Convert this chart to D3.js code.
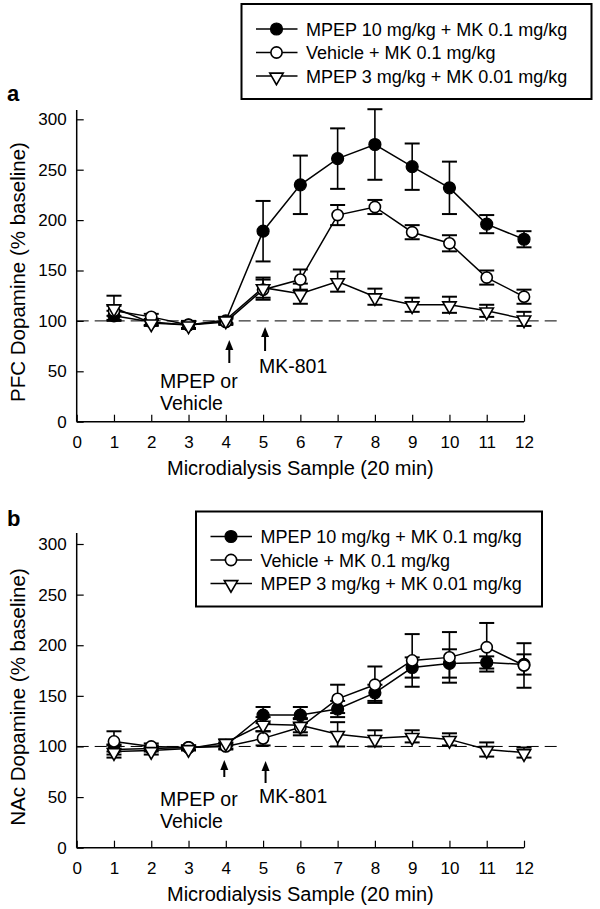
<!DOCTYPE html>
<html>
<head>
<meta charset="utf-8">
<script src="https://cdn.jsdelivr.net/npm/d3@7"></script>
<style>
  html, body { margin: 0; padding: 0; background: #fff; }
  svg { display: block; }
  text { font-family: "Liberation Sans", Arial, Helvetica, sans-serif; fill: #000; }
</style>
</head>
<body>
<svg id="chart" width="600" height="909"></svg>
<script>
// ---------- data ----------
const samples = [1, 2, 3, 4, 5, 6, 7, 8, 9, 10, 11, 12];
const xTicks = [0, 1, 2, 3, 4, 5, 6, 7, 8, 9, 10, 11, 12];
const yTicks = [0, 50, 100, 150, 200, 250, 300];
const seriesNames = ["MPEP 10 mg/kg + MK 0.1 mg/kg", "Vehicle + MK 0.1 mg/kg", "MPEP 3 mg/kg + MK 0.01 mg/kg"];

// Panel a: PFC dopamine (% baseline)
const pfcMpep10 = [105, 99, 96, 100, 189, 235, 261, 275, 253, 232, 196, 181];
const pfcMpep10Err = [5, 3, 3, 3, 30, 29, 30, 35, 23, 26, 9, 8];
const pfcVehicle = [110, 104, 96, 99, 131, 141, 205, 213, 188, 177, 143, 124];
const pfcVehicleErr = [5, 3, 3, 3, 10, 10, 10, 7, 7, 8, 7, 7];
const pfcMpep3 = [113, 98, 96, 101, 133, 127, 139, 124, 116, 116, 110, 102];
const pfcMpep3Err = [12, 3, 4, 3, 10, 10, 10, 8, 7, 8, 6, 7];

// Panel b: NAc dopamine (% baseline)
const nacMpep10 = [97, 98, 99, 101, 131, 131, 137, 153, 178, 182, 183, 181];
const nacMpep10Err = [5, 3, 2, 3, 8, 8, 8, 8, 10, 14, 6, 10];
const nacVehicle = [105, 100, 99, 100, 108, 119, 147, 161, 185, 188, 198, 180];
const nacVehicleErr = [10, 3, 2, 3, 7, 8, 14, 18, 26, 25, 24, 22];
const nacMpep3 = [95, 96, 98, 104, 122, 121, 112, 108, 110, 107, 97, 94];
const nacMpep3Err = [6, 4, 2, 3, 7, 7, 12, 8, 6, 6, 7, 5];

const baselineValue = 100;
const arrowMpepX = 4;
const arrowMk801X = 5;

// ---------- drawing ----------
const svg = d3.select("#chart");

const xScale = d3.scaleLinear().domain([0, 12]).range([76.7, 524]);

const markerTypes = ["filled", "open", "triangle"];

function drawMarker(g, type, cx, cy) {
  if (type === "filled") {
    g.append("circle").attr("cx", cx).attr("cy", cy).attr("r", 6)
      .attr("fill", "#000").attr("stroke", "#000").attr("stroke-width", 1.2);
  } else if (type === "open") {
    g.append("circle").attr("cx", cx).attr("cy", cy).attr("r", 5.6)
      .attr("fill", "#fff").attr("stroke", "#000").attr("stroke-width", 1.6);
  } else {
    const sym = d3.symbol().type(d3.symbolTriangle).size(78);
    g.append("path").attr("d", sym())
      .attr("transform", `translate(${cx},${cy + 1}) rotate(180)`)
      .attr("fill", "#fff").attr("stroke", "#000").attr("stroke-width", 1.6);
  }
}

function drawArrow(g, x, yTop, yBottom) {
  g.append("line").attr("x1", x).attr("x2", x)
    .attr("y1", yTop + 8).attr("y2", yBottom)
    .attr("stroke", "#000").attr("stroke-width", 2);
  g.append("path")
    .attr("d", `M${x},${yTop} L${x - 4},${yTop + 10} L${x + 4},${yTop + 10} Z`)
    .attr("fill", "#000");
}

function drawPanel(p) {
  const g = svg.append("g");
  const y = d3.scaleLinear().domain([0, 300]).range([p.y0, p.y300]);

  // panel letter
  g.append("text").attr("x", 7).attr("y", p.labelY)
    .attr("font-size", 22).attr("font-weight", "bold").text(p.letter);

  // baseline dashed line
  g.append("line")
    .attr("x1", xScale(0)).attr("x2", 562)
    .attr("y1", y(baselineValue)).attr("y2", y(baselineValue))
    .attr("stroke", "#000").attr("stroke-width", 1)
    .attr("stroke-dasharray", "12,6");

  // y axis
  const yAxis = d3.axisLeft(y).tickValues(yTicks).tickSize(-7).tickPadding(10)
    .tickFormat(d3.format("d"));
  const ya = g.append("g").attr("transform", `translate(${xScale(0)},0)`).call(yAxis);
  ya.select(".domain").remove();
  ya.append("line").attr("x1", 0).attr("x2", 0)
    .attr("y1", y(0)).attr("y2", p.axisTop)
    .attr("stroke", "#000").attr("stroke-width", 1.5);
  ya.selectAll(".tick line").attr("stroke", "#000").attr("stroke-width", 1.2);
  ya.selectAll(".tick text").attr("font-size", 17)
    .attr("font-family", '"Liberation Sans", Arial, sans-serif').attr("fill", "#000");

  // x axis
  const xAxis = d3.axisBottom(xScale).tickValues(xTicks).tickSize(-7).tickPadding(14)
    .tickFormat(d3.format("d"));
  const xa = g.append("g").attr("transform", `translate(0,${y(0)})`).call(xAxis);
  xa.select(".domain").remove();
  xa.append("line").attr("x1", xScale(0)).attr("x2", xScale(12))
    .attr("y1", 0).attr("y2", 0).attr("stroke", "#000").attr("stroke-width", 1.5);
  xa.selectAll(".tick line").attr("stroke", "#000").attr("stroke-width", 1.2);
  xa.selectAll(".tick text").attr("font-size", 17)
    .attr("font-family", '"Liberation Sans", Arial, sans-serif').attr("fill", "#000");

  // axis titles
  g.append("text").attr("x", (xScale(0) + xScale(12)) / 2).attr("y", y(0) + 53)
    .attr("text-anchor", "middle").attr("font-size", 20)
    .text("Microdialysis Sample (20 min)");
  g.append("text")
    .attr("transform", `translate(${p.yTitleX},${p.yTitleCy}) rotate(-90)`)
    .attr("text-anchor", "middle").attr("font-size", 20.5)
    .text(p.yTitle);

  // annotations
  drawArrow(g, xScale(arrowMpepX) + p.mpepArrowDx, p.mpepArrowTop, p.mpepArrowBottom);
  drawArrow(g, xScale(arrowMk801X) + p.mkArrowDx, p.mkArrowTop, p.mkArrowBottom);
  g.append("text").attr("x", 160).attr("y", p.mpepTextY).attr("font-size", 19.5).text("MPEP or");
  g.append("text").attr("x", 160).attr("y", p.mpepTextY + 22).attr("font-size", 19.5).text("Vehicle");
  g.append("text").attr("x", 259).attr("y", p.mkTextY).attr("font-size", 19.5).text("MK-801");

  // series lines
  const line = d3.line().x((d, i) => xScale(samples[i])).y(d => y(d));
  p.series.forEach(s => {
    g.append("path").datum(s.values).attr("d", line)
      .attr("fill", "none").attr("stroke", "#000").attr("stroke-width", 1.5);
  });

  // error bars
  p.series.forEach(s => {
    s.values.forEach((v, i) => {
      const cx = xScale(samples[i]);
      const e = s.errors[i];
      const yt = y(v + e), yb = y(v - e);
      g.append("line").attr("x1", cx).attr("x2", cx).attr("y1", yt).attr("y2", yb)
        .attr("stroke", "#000").attr("stroke-width", 1.6);
      [yt, yb].forEach(yy => {
        g.append("line").attr("x1", cx - 7.5).attr("x2", cx + 7.5)
          .attr("y1", yy).attr("y2", yy)
          .attr("stroke", "#000").attr("stroke-width", 2);
      });
    });
  });

  // markers
  p.series.forEach(s => {
    s.values.forEach((v, i) => drawMarker(g, s.type, xScale(samples[i]), y(v)));
  });

  // legend
  const lg = g.append("g");
  lg.append("rect").attr("x", p.legX).attr("y", p.legY)
    .attr("width", p.legW).attr("height", p.legH)
    .attr("fill", "#fff").attr("stroke", "#000").attr("stroke-width", 2);
  seriesNames.forEach((name, i) => {
    const ry = p.legY + 25 + i * 23.5;
    lg.append("line").attr("x1", p.legX + 14.5).attr("x2", p.legX + 56)
      .attr("y1", ry).attr("y2", ry).attr("stroke", "#000").attr("stroke-width", 1.6);
    drawMarker(lg, markerTypes[i], p.legX + 35, ry);
    lg.append("text").attr("x", p.legX + 64.5).attr("y", ry + 6.5)
      .attr("font-size", 18).text(name);
  });
}

drawPanel({
  letter: "a", labelY: 101,
  y0: 421.7, y300: 119.3, axisTop: 110,
  yTitle: "PFC Dopamine (% baseline)", yTitleX: 25, yTitleCy: 272,
  mpepArrowDx: 3.5, mpepArrowTop: 340, mpepArrowBottom: 363,
  mkArrowDx: 2, mkArrowTop: 327, mkArrowBottom: 351,
  mpepTextY: 388, mkTextY: 373,
  legX: 241.5, legY: 4, legW: 350, legH: 95,
  series: [
    { type: "filled", values: pfcMpep10, errors: pfcMpep10Err },
    { type: "open", values: pfcVehicle, errors: pfcVehicleErr },
    { type: "triangle", values: pfcMpep3, errors: pfcMpep3Err }
  ]
});

drawPanel({
  letter: "b", labelY: 526,
  y0: 847.7, y300: 544, axisTop: 533,
  yTitle: "NAc Dopamine (% baseline)", yTitleX: 25, yTitleCy: 697,
  mpepArrowDx: -1.5, mpepArrowTop: 760, mpepArrowBottom: 777,
  mkArrowDx: 2.5, mkArrowTop: 761, mkArrowBottom: 783,
  mpepTextY: 806, mkTextY: 803,
  legX: 196, legY: 511.5, legW: 346, legH: 95,
  series: [
    { type: "filled", values: nacMpep10, errors: nacMpep10Err },
    { type: "open", values: nacVehicle, errors: nacVehicleErr },
    { type: "triangle", values: nacMpep3, errors: nacMpep3Err }
  ]
});
</script>
</body>
</html>
